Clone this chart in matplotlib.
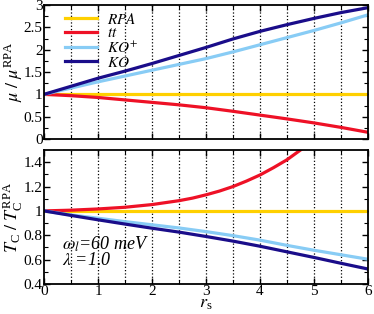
import matplotlib.pyplot as plt
import numpy as np

plt.rcParams['font.family'] = ['Liberation Serif', 'DejaVu Serif']
plt.rcParams['mathtext.fontset'] = 'stix'

# data
rs = [0, 0.5, 1, 1.5, 2, 2.5, 3, 3.5, 4, 4.5, 5, 5.5, 6]

mu_rpa = [1] * len(rs)
mu_tt = [1.0, 0.97, 0.93, 0.875, 0.82, 0.765, 0.70, 0.62, 0.535, 0.45, 0.36, 0.26, 0.15]
mu_kop = [1.0, 1.14, 1.28, 1.41, 1.54, 1.67, 1.80, 1.95, 2.11, 2.27, 2.43, 2.60, 2.78]
mu_ko = [1.0, 1.18, 1.36, 1.52, 1.69, 1.87, 2.05, 2.24, 2.41, 2.56, 2.70, 2.83, 2.94]

tc_rpa = [1] * len(rs)
rs_tt = [0, 0.5, 1, 1.5, 2, 2.5, 2.75, 3, 3.25, 3.5, 3.75, 4, 4.25, 4.5, 4.75, 5]
tc_tt = [1.0, 1.006, 1.016, 1.03, 1.052, 1.084, 1.105, 1.132, 1.163, 1.2, 1.245, 1.295, 1.355, 1.42, 1.5, 1.59]
tc_kop = [1.0, 0.967, 0.94, 0.912, 0.886, 0.86, 0.83, 0.797, 0.76, 0.717, 0.677, 0.64, 0.603]
tc_ko = [1.0, 0.963, 0.927, 0.892, 0.858, 0.826, 0.79, 0.752, 0.71, 0.664, 0.618, 0.57, 0.523]

c_rpa = '#FFD000'
c_tt = '#EE1126'
c_kop = '#88CCF5'
c_ko = '#1A0D8A'
lw = 2.3

fig = plt.figure(figsize=(3.74, 3.14), dpi=100)
ax1 = fig.add_axes([44 / 374, 1 - 139 / 314, 324 / 374, 134 / 314])
ax2 = fig.add_axes([44 / 374, 1 - 284 / 314, 324 / 374, 134 / 314])

ax1.plot(rs, mu_rpa, color=c_rpa, lw=lw, label='$RPA$')
ax1.plot(rs, mu_tt, color=c_tt, lw=lw, label='$tt$')
ax1.plot(rs, mu_kop, color=c_kop, lw=lw, label='$KO^{+}$')
ax1.plot(rs, mu_ko, color=c_ko, lw=lw, label='$KO$')

ax2.plot(rs, tc_rpa, color=c_rpa, lw=lw)
ax2.plot(rs_tt, tc_tt, color=c_tt, lw=lw)
ax2.plot(rs, tc_kop, color=c_kop, lw=lw)
ax2.plot(rs, tc_ko, color=c_ko, lw=lw)

for ax in (ax1, ax2):
    ax.set_xlim(0, 6)
    ax.set_xticks(range(7))
    ax.set_xticks(np.arange(0.5, 6, 1), minor=True)
    ax.tick_params(which='both', direction='in', top=True, right=True, labelsize=11, pad=1)
    ax.tick_params(which='major', length=4, width=1)
    ax.tick_params(which='minor', length=3, width=0.8)
    for x in np.arange(0.5, 6, 0.5):
        ax.axvline(x, color='black', ls=':', lw=0.9, zorder=0)
    for s in ax.spines.values():
        s.set_linewidth(1.3)

ax1.set_ylim(0, 3)
ax1.set_yticks([0, 0.5, 1, 1.5, 2, 2.5, 3])
ax1.set_yticks(np.arange(0.25, 3, 0.5), minor=True)
ax1.set_yticklabels(['0', '0.5', '1', '1.5', '2', '2.5', '3'])
ax1.set_xticklabels([])
ax1.set_ylabel(r'$\mu\ /\ \mu^{\mathregular{RPA}}$', fontsize=13)
ax1.yaxis.set_label_coords(-0.06, 0.5)
ax1.legend(loc='upper left', frameon=False, fontsize=11, handlelength=2.1,
           borderaxespad=0, labelspacing=0.0, handletextpad=0.7,
           bbox_to_anchor=(0.045, 0.995))

ax2.set_ylim(0.4, 1.5)
ax2.set_yticks([0.4, 0.6, 0.8, 1.0, 1.2, 1.4])
ax2.set_yticks(np.arange(0.5, 1.5, 0.2), minor=True)
ax2.set_yticklabels(['0.4', '0.6', '0.8', '1', '1.2', '1.4'])
ax2.set_xticklabels(['0', '1', '2', '3', '4', '5', '6'])
ax2.set_xlabel('$r_\\mathregular{s}$', fontsize=13, labelpad=-2.5)
ax2.set_ylabel(r'$T_\mathregular{C}\ /\ T_\mathregular{C}^{\mathregular{RPA}}$', fontsize=13)
ax2.yaxis.set_label_coords(-0.06, 0.5)
ax2.text(0.055, 0.26, r'$\omega_l$=60 meV', transform=ax2.transAxes, fontsize=13, style='italic')
ax2.text(0.055, 0.14, r'$\lambda$ =1.0', transform=ax2.transAxes, fontsize=13, style='italic')

fig.savefig('out.png', dpi=100)
